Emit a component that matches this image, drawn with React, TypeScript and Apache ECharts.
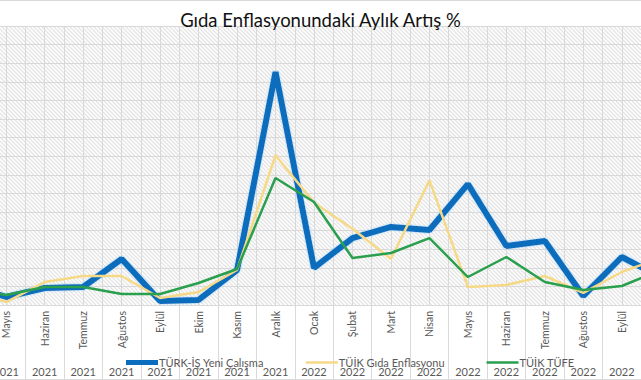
import React, { useEffect, useRef } from "react";
import * as echarts from "echarts";

const months = ["Nisan", "Mayıs", "Haziran", "Temmuz", "Ağustos", "Eylül", "Ekim", "Kasım", "Aralık", "Ocak", "Şubat", "Mart", "Nisan", "Mayıs", "Haziran", "Temmuz", "Ağustos", "Eylül", "Ekim"];
const years = ["2021", "2021", "2021", "2021", "2021", "2021", "2021", "2021", "2021", "2022", "2022", "2022", "2022", "2022", "2022", "2022", "2022", "2022", "2022"];
const categories = months.map((m, i) => m + " " + years[i]);

const turkIs = [2.2, 0.86, 1.83, 1.94, 4.95, 0.43, 0.54, 3.76, 25.05, 3.98, 7.2, 8.39, 8.06, 13.0, 6.34, 6.88, 0.97, 5.16, 3.0];
const tuikGida = [1.7, 0.32, 2.47, 3.12, 3.12, 0.75, 1.4, 3.76, 16.1, 11.0, 8.2, 4.95, 13.4, 1.94, 2.15, 3.12, 1.3, 3.55, 5.05];
const tuikTufe = [1.7, 1.07, 1.94, 1.94, 1.18, 1.18, 2.37, 3.87, 13.66, 11.08, 5.05, 5.59, 7.2, 3.01, 5.16, 2.47, 1.61, 2.04, 3.76];

const seriesNames = ["TÜRK-İŞ Yeni Çalışma", "TÜİK Gıda Enflasyonu", "TÜİK TÜFE"];
const seriesColors = ["#0b6dbd", "#f6d987", "#2a9f4e"];
const title = "Gıda Enflasyonundaki Aylık Artış %";

// decorative diagonal hatch over the plot background
function hatchLines(x0: number, y0: number, x1: number, y1: number, step: number) {
  const out: any[] = [];
  for (let c = x0 - y1; c <= x1 - y0; c += step) {
    const xa = Math.max(x0, y0 + c);
    const xb = Math.min(x1, y1 + c);
    if (xb <= xa) continue;
    out.push({
      type: "line",
      silent: true,
      z: -10,
      shape: { x1: xa, y1: xa - c, x2: xb, y2: xb - c },
      style: { stroke: "#e4e4e4", lineWidth: 1.3 },
    });
  }
  return out;
}

export default function App() {
  const ref = useRef<HTMLDivElement>(null);
  useEffect(() => {
    if (!ref.current) return;
    const chart = echarts.init(ref.current, null, { renderer: "svg" });
    const font = "Lato, 'Noto Sans', sans-serif";
    const gray = "#595959";
    chart.setOption({
      animation: false,
      backgroundColor: "#ffffff",
      title: {
        text: title,
        left: "center",
        top: 5,
        textStyle: { fontFamily: font, fontSize: 18.5, fontWeight: "normal", color: "#111" },
      },
      legend: {
        left: 121,
        top: 352,
        itemGap: 42,
        itemWidth: 32,
        itemHeight: 10,
        data: seriesNames.map((n, i) => ({
          name: n,
          icon: i === 0 ? "path://M0,0H32V5H0Z" : "path://M0,0H32V2.5H0Z",
          itemStyle: { color: seriesColors[i] },
        })),
        textStyle: { fontFamily: font, fontSize: 11, color: gray, padding: [0, 0, 0, -4] },
      },
      grid: {
        left: -51.5,
        right: -38.5,
        top: 26,
        bottom: 75,
        show: false,
        containLabel: false,
        outerBoundsMode: "none",
      },
      xAxis: [
        {
          type: "category",
          data: categories,
          position: "bottom",
          boundaryGap: true,
          axisLine: { show: true, lineStyle: { color: "#d9d9d9", width: 1 } },
          axisTick: { show: true, interval: 0, length: 75, lineStyle: { color: "#d9d9d9" } },
          axisLabel: {
            interval: 0,
            rotate: 90,
            margin: 6,
            fontFamily: font,
            fontSize: 10.5,
            color: gray,
            formatter: (v: string) => v.split(" ")[0],
          },
          splitLine: { show: false },
        },
        {
          type: "category",
          data: categories,
          position: "bottom",
          boundaryGap: true,
          axisLine: { show: false },
          axisTick: { show: false },
          axisLabel: {
            interval: 0,
            margin: 61,
            fontFamily: font,
            fontSize: 11,
            color: gray,
            formatter: (v: string) => v.split(" ")[1],
          },
          splitLine: { show: false },
        },
        {
          type: "value",
          position: "top",
          min: 0,
          max: 38,
          interval: 1,
          axisLine: { show: false },
          axisTick: { show: false },
          axisLabel: { show: false },
          splitLine: { show: true, lineStyle: { color: "#d9d9d9", width: 1 } },
        },
      ],
      yAxis: {
        type: "value",
        min: 0,
        max: 30,
        interval: 2,
        axisLine: { show: false },
        axisTick: { show: false },
        axisLabel: { show: false },
        splitLine: { show: true, lineStyle: { color: "#d9d9d9", width: 1 } },
      },
      graphic: [
        ...hatchLines(0, 26, 641, 305, 4),
        { type: "line", shape: { x1: 0, y1: 0.5, x2: 641, y2: 0.5 }, style: { stroke: "#d9d9d9", lineWidth: 1 } },
        { type: "line", shape: { x1: 0, y1: 379.5, x2: 641, y2: 379.5 }, style: { stroke: "#d9d9d9", lineWidth: 1 } },
      ],
      series: [
        {
          name: seriesNames[0],
          type: "line",
          xAxisIndex: 0,
          data: turkIs,
          symbol: "none",
          lineStyle: { color: seriesColors[0], width: 6, shadowBlur: 2, shadowColor: "rgba(120,200,255,0.7)" },
          itemStyle: { color: seriesColors[0] },
          z: 2,
        },
        {
          name: seriesNames[1],
          type: "line",
          xAxisIndex: 0,
          data: tuikGida,
          symbol: "none",
          lineStyle: { color: seriesColors[1], width: 2.5 },
          itemStyle: { color: seriesColors[1] },
          z: 3,
        },
        {
          name: seriesNames[2],
          type: "line",
          xAxisIndex: 0,
          data: tuikTufe,
          symbol: "none",
          lineStyle: { color: seriesColors[2], width: 2.5 },
          itemStyle: { color: seriesColors[2] },
          z: 4,
        },
      ],
    });
    return () => chart.dispose();
  }, []);
  return <div ref={ref} style={{ position: "fixed", left: 0, top: 0, width: 641, height: 380 }} />;
}
